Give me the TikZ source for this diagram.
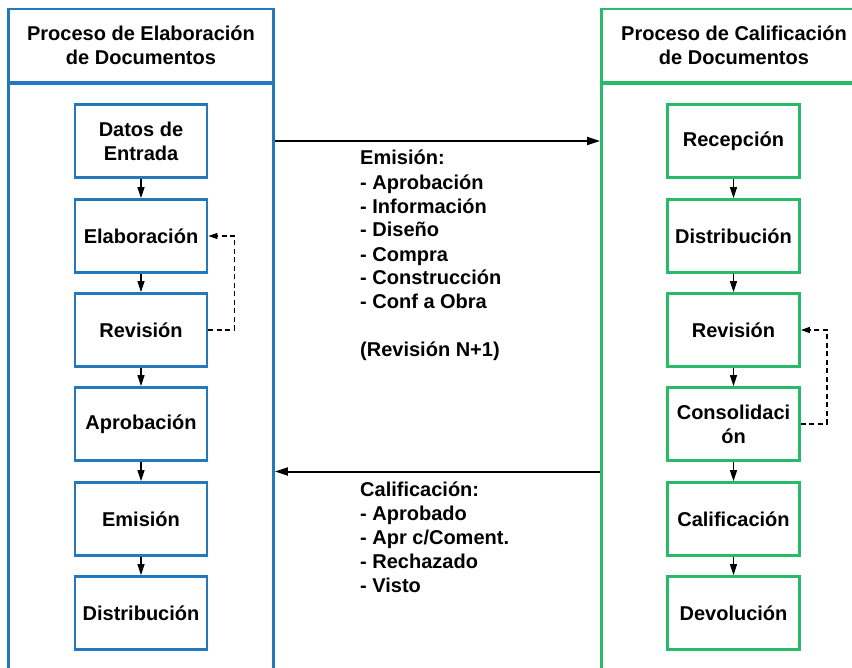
\documentclass[tikz,border=0pt]{standalone}
\usepackage{fontspec}
\setmainfont{Liberation Sans}
\usetikzlibrary{arrows.meta,calc}
\definecolor{azul}{RGB}{36,120,190}
\definecolor{verde}{RGB}{40,185,105}

\begin{document}
\begin{tikzpicture}
        [x=1pt,y=-1pt,every node/.style={font=\fontsize{20}{24}\selectfont\bfseries,align=center},
         caja/.style={draw,rectangle,minimum width=132pt,minimum height=73pt,inner sep=2pt,line width=2.8pt},
         cajaE/.style={caja,draw=azul},
         cajaC/.style={caja,draw=verde},
         carril/.style={draw,rectangle,minimum width=265pt,line width=2.8pt},
         flujo/.style={-{Triangle[length=11pt,width=7pt]},line width=1.3pt},
         envio/.style={-{Triangle[length=13pt,width=8pt]},line width=2pt},
         retro/.style={-{Triangle[length=9pt,width=6pt]},line width=1.3pt,dash pattern=on 5pt off 3.5pt}]

        \useasboundingbox[fill=white] (0,0) rectangle (852,668);

        % carriles
        \node[carril,draw=azul,minimum height=73pt] (hE) at (141,45.5) {Proceso de Elaboración\\de Documentos};
        \node[carril,draw=azul,minimum height=640pt,anchor=north] (bE) at (141,82) {};
        \node[carril,draw=verde,minimum height=73pt] (hC) at (734,45.5) {Proceso de Calificación\\de Documentos};
        \node[carril,draw=verde,minimum height=640pt,anchor=north] (bC) at (734,82) {};

        % elaboracion
        \node[cajaE] (e1) at (141,141) {Datos de\\Entrada};
        \node[cajaE] (e2) at (141,236) {Elaboración};
        \node[cajaE] (e3) at (141,330) {Revisión};
        \node[cajaE] (e4) at (141,424) {Aprobación};
        \node[cajaE] (e5) at (141,519) {Emisión};
        \node[cajaE] (e6) at (141,613) {Distribución};

        % calificacion
        \node[cajaC] (c1) at (733.5,141) {Recepción};
        \node[cajaC] (c2) at (733.5,236) {Distribución};
        \node[cajaC] (c3) at (733.5,330) {Revisión};
        \node[cajaC] (c4) at (733.5,424) {Consolidaci\\ón};
        \node[cajaC] (c5) at (733.5,519) {Calificación};
        \node[cajaC] (c6) at (733.5,613) {Devolución};

        \draw[flujo] (e1) -- (e2);
        \draw[flujo] (e2) -- (e3);
        \draw[flujo] (e3) -- (e4);
        \draw[flujo] (e4) -- (e5);
        \draw[flujo] (e5) -- (e6);
        \draw[flujo] (c1) -- (c2);
        \draw[flujo] (c2) -- (c3);
        \draw[flujo] (c3) -- (c4);
        \draw[flujo] (c4) -- (c5);
        \draw[flujo] (c5) -- (c6);

        \draw[retro] (e3.east) -- ++(26,0) |- (e2.east);
        \draw[retro] (c4.east) -- ++(26,0) |- (c3.east);

        % envio y devolucion
        \coordinate (ret) at ($(c4)!0.5!(c5)$);
        \draw[envio] (bE.east |- e1) -- (bC.west |- c1);
        \draw[envio] (bC.west |- ret) -- (bE.east |- ret);

        \node[anchor=base west,align=left,inner sep=0] (emi) at (360,357)
          {Emisión:\\- Aprobación\\- Información\\- Diseño\\- Compra\\- Construcción\\- Conf a Obra\\[24pt](Revisión N+1)};
        \node[anchor=base west,align=left,inner sep=0] (cal) at (360,592)
          {Calificación:\\- Aprobado\\- Apr c/Coment.\\- Rechazado\\- Visto};

      \end{tikzpicture}
\end{document}
